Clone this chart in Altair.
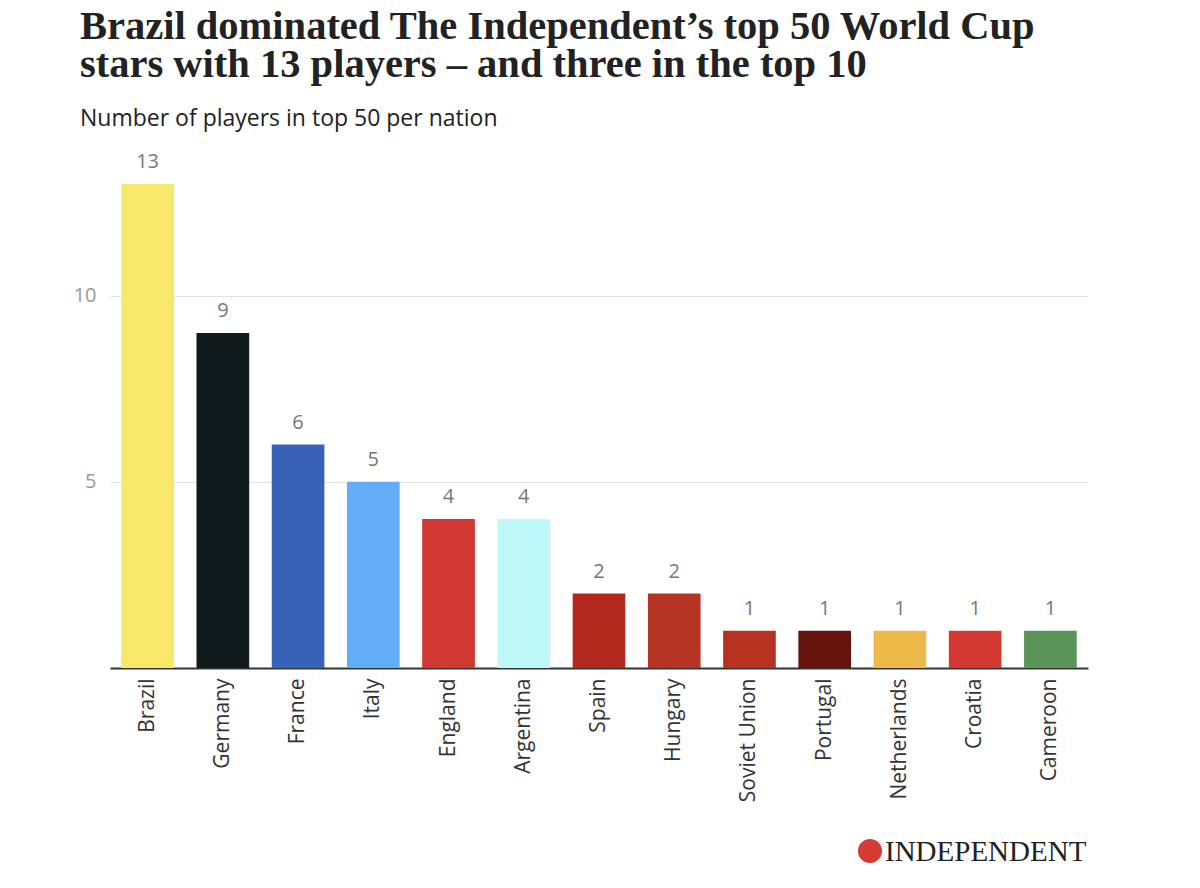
import altair as alt
import pandas as pd

nations = ["Brazil", "Germany", "France", "Italy", "England", "Argentina", "Spain",
           "Hungary", "Soviet Union", "Portugal", "Netherlands", "Croatia", "Cameroon"]
players = [13, 9, 6, 5, 4, 4, 2, 2, 1, 1, 1, 1, 1]
colors = ["#F8E86A", "#111A1A", "#3762B8", "#63ADF7", "#D23833", "#BEF8F8", "#B4291E",
          "#B63423", "#B83221", "#65140D", "#EDBA4A", "#D33833", "#5B9458"]

title_lines = ["Brazil dominated The Independent\u2019s top 50 World Cup",
               "stars with 13 players \u2013 and three in the top 10"]
subtitle = "Number of players in top 50 per nation"
brand = "INDEPENDENT"

df = pd.DataFrame({"nation": nations, "players": players, "color": colors})

SANS = "Open Sans"
SERIF = "Liberation Serif"

x = alt.X("nation:N", sort=nations, title=None,
          scale=alt.Scale(paddingInner=0.3, paddingOuter=0.15),
          axis=alt.Axis(labelAngle=-90, labelAlign="right", labelBaseline="middle",
                        labelFontSize=21, labelFont=SANS, labelColor="#333333",
                        labelPadding=10, ticks=False, domainColor="#333333",
                        domainWidth=2))
y = alt.Y("players:Q", title=None,
          scale=alt.Scale(domain=[0, 13], nice=False),
          axis=alt.Axis(values=[5, 10], labelFontSize=20, labelFont=SANS,
                        labelColor="#999999", labelPadding=14, ticks=False,
                        domain=False, gridColor="#E3E3E3", gridWidth=1.2))

base = alt.Chart(df)
bars = base.mark_bar().encode(x=x, y=y, color=alt.Color("color:N", scale=None))
labels = base.mark_text(baseline="bottom", dy=-12, fontSize=20, font=SANS,
                        color="#777777").encode(x=x, y=y, text="players:Q")

def txt(value, xpx, ypx, **kw):
    return alt.Chart(alt.Data(values=[{"t": value}])).mark_text(
        align="left", baseline="alphabetic", **kw
    ).encode(x=alt.value(xpx), y=alt.value(ypx), text="t:N")

t1 = txt(title_lines[0], -30, -145, font=SERIF, fontSize=40.5, fontWeight="bold", color="#222222")
t2 = txt(title_lines[1], -30, -107, font=SERIF, fontSize=40.5, fontWeight="bold", color="#222222")
st = txt(subtitle, -30, -58, font=SANS, fontSize=23, color="#222222")

logo_circle = alt.Chart(alt.Data(values=[{"a": 1}])).mark_point(
    filled=True, shape="circle", size=580, color="#D33B33", opacity=1
).encode(x=alt.value(760), y=alt.value(667))
logo_text = txt(brand, 775, 677, font=SERIF, fontSize=29, color="#222222")

chart = alt.layer(bars, labels, t1, t2, st, logo_circle, logo_text).properties(
    width=978, height=484,
    background="white",
    autosize=alt.AutoSizeParams(type="none"),
    padding={"left": 102, "top": 176, "right": 104, "bottom": 212},
).configure_view(strokeWidth=0, stroke="transparent")

chart.save("out.html", embed_options={"renderer": "svg", "actions": False})
